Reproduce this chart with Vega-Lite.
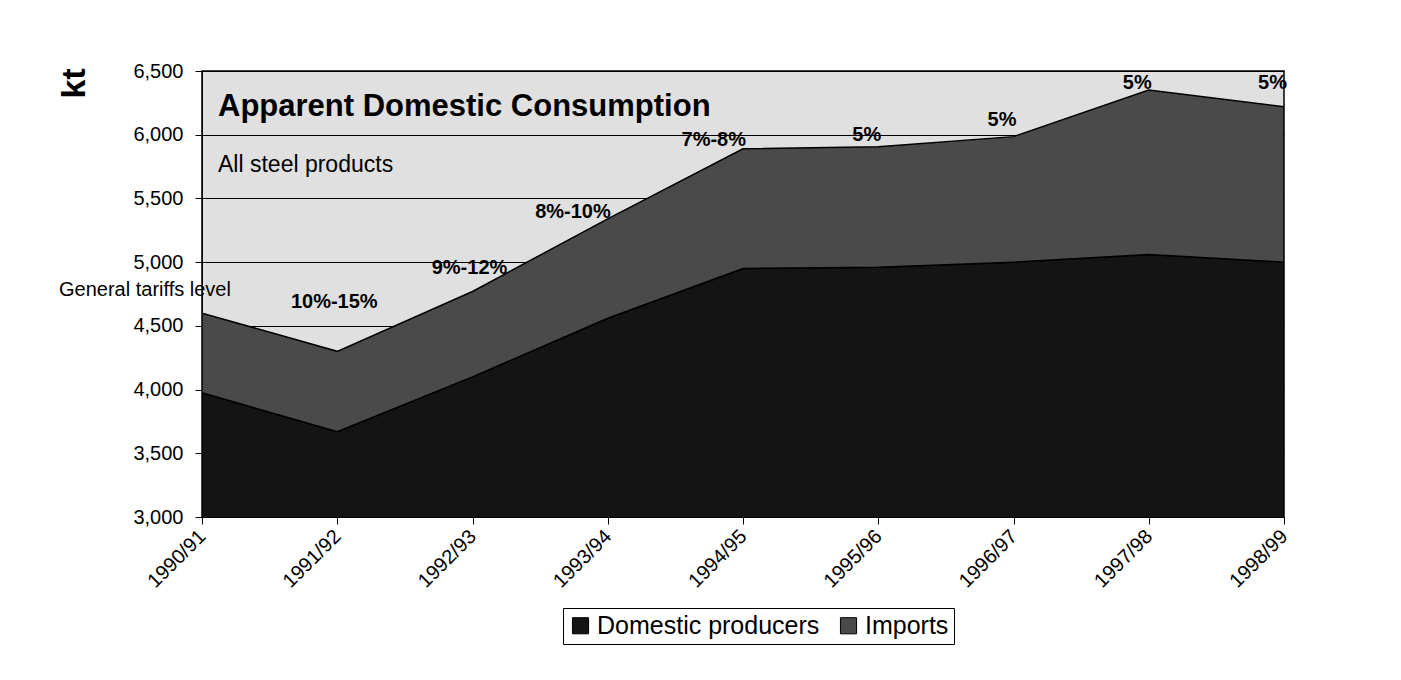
{
  "$schema": "https://vega.github.io/schema/vega-lite/v6.json",
  "width": 1082,
  "height": 446,
  "autosize": "none",
  "padding": {"left": 202, "top": 71, "right": 117, "bottom": 163},
  "background": "white",
  "config": {
    "font": "Liberation Sans",
    "view": {"fill": "#e0e0e0", "stroke": "black", "strokeWidth": 1.5}
  },
  "datasets": {
    "flows": [
      {"year": "1990/91", "series": "Domestic producers", "kt": 3975},
      {"year": "1991/92", "series": "Domestic producers", "kt": 3670},
      {"year": "1992/93", "series": "Domestic producers", "kt": 4100},
      {"year": "1993/94", "series": "Domestic producers", "kt": 4560},
      {"year": "1994/95", "series": "Domestic producers", "kt": 4950},
      {"year": "1995/96", "series": "Domestic producers", "kt": 4960},
      {"year": "1996/97", "series": "Domestic producers", "kt": 5000},
      {"year": "1997/98", "series": "Domestic producers", "kt": 5060},
      {"year": "1998/99", "series": "Domestic producers", "kt": 5000},
      {"year": "1990/91", "series": "Imports", "kt": 625},
      {"year": "1991/92", "series": "Imports", "kt": 630},
      {"year": "1992/93", "series": "Imports", "kt": 670},
      {"year": "1993/94", "series": "Imports", "kt": 780},
      {"year": "1994/95", "series": "Imports", "kt": 940},
      {"year": "1995/96", "series": "Imports", "kt": 945},
      {"year": "1996/97", "series": "Imports", "kt": 985},
      {"year": "1997/98", "series": "Imports", "kt": 1290},
      {"year": "1998/99", "series": "Imports", "kt": 1220}
    ],
    "tariffs": [
      {"year": "1991/92", "ly": 4687, "txt": "10%-15%", "grp": "a"},
      {"year": "1992/93", "ly": 4954, "txt": "9%-12%", "grp": "a"},
      {"year": "1993/94", "ly": 5393, "txt": "8%-10%", "grp": "b"},
      {"year": "1994/95", "ly": 5958, "txt": "7%-8%", "grp": "b"},
      {"year": "1995/96", "ly": 5998, "txt": "5%", "grp": "b"},
      {"year": "1996/97", "ly": 6115, "txt": "5%", "grp": "b"},
      {"year": "1997/98", "ly": 6406, "txt": "5%", "grp": "b"},
      {"year": "1998/99", "ly": 6406, "txt": "5%", "grp": "b"}
    ],
    "notes": [
      {"year": "1990/91", "ly": 6220, "txt": "Apparent Domestic Consumption", "kind": "title"},
      {"year": "1990/91", "ly": 5760, "txt": "All steel products", "kind": "sub"},
      {"year": "1990/91", "ly": 4781, "txt": "General tariffs level", "kind": "note"}
    ]
  },
  "layer": [
    {
      "data": {"name": "flows"},
      "mark": {"type": "area", "clip": true, "stroke": "black", "strokeWidth": 1.5, "opacity": 1},
      "encoding": {
        "x": {
          "field": "year", "type": "ordinal", "title": null,
          "scale": {"type": "point", "padding": 0},
          "axis": {
            "labelAngle": -45, "labelAlign": "right", "labelBaseline": "middle",
            "labelFontSize": 20, "labelColor": "black", "labelPadding": 9,
            "tickColor": "black", "tickSize": 7, "domainColor": "black", "grid": false
          }
        },
        "y": {
          "field": "kt", "type": "quantitative", "stack": "zero", "title": "kt",
          "scale": {"domain": [3000, 6500], "zero": false, "nice": false},
          "axis": {
            "values": [3000, 3500, 4000, 4500, 5000, 5500, 6000, 6500],
            "labelExpr": "format(datum.value, ',')",
            "labelFontSize": 20, "labelColor": "black", "labelPadding": 12,
            "tickColor": "black", "tickSize": 7, "domainColor": "black",
            "grid": true, "gridColor": "black", "gridWidth": 1, "gridOpacity": 1,
            "titleFontSize": 34, "titleFontWeight": "bold", "titleColor": "black",
            "titleAngle": -90, "titleX": -128, "titleY": 12,
            "titleAlign": "center", "titleBaseline": "middle"
          }
        },
        "color": {
          "field": "series", "type": "nominal",
          "scale": {"domain": ["Domestic producers", "Imports"], "range": ["#141414", "#4a4a4a"]},
          "legend": {
            "orient": "none", "legendX": 361, "legendY": 537, "direction": "horizontal",
            "title": null, "labelFontSize": 25, "labelColor": "black", "labelLimit": 400,
            "symbolType": "square", "symbolSize": 260, "symbolStrokeColor": "black",
            "symbolStrokeWidth": 1, "symbolOpacity": 1,
            "strokeColor": "black", "padding": 5, "columnPadding": 16, "fillColor": "white"
          }
        },
        "order": {"field": "series", "sort": "ascending"}
      }
    },
    {
      "data": {"name": "notes"},
      "transform": [{"filter": "datum.kind === 'title'"}],
      "mark": {"type": "text", "align": "left", "baseline": "middle", "fontSize": 31, "fontWeight": "bold", "dx": 16, "color": "black"},
      "encoding": {
        "x": {"field": "year", "type": "ordinal", "title": null},
        "y": {"field": "ly", "type": "quantitative", "title": "kt"},
        "text": {"field": "txt"}
      }
    },
    {
      "data": {"name": "notes"},
      "transform": [{"filter": "datum.kind === 'sub'"}],
      "mark": {"type": "text", "align": "left", "baseline": "middle", "fontSize": 23, "dx": 16, "color": "black"},
      "encoding": {
        "x": {"field": "year", "type": "ordinal", "title": null},
        "y": {"field": "ly", "type": "quantitative", "title": "kt"},
        "text": {"field": "txt"}
      }
    },
    {
      "data": {"name": "notes"},
      "transform": [{"filter": "datum.kind === 'note'"}],
      "mark": {"type": "text", "align": "left", "baseline": "middle", "fontSize": 20, "dx": -143, "color": "black"},
      "encoding": {
        "x": {"field": "year", "type": "ordinal", "title": null},
        "y": {"field": "ly", "type": "quantitative", "title": "kt"},
        "text": {"field": "txt"}
      }
    },
    {
      "data": {"name": "tariffs"},
      "transform": [{"filter": "datum.grp === 'a'"}],
      "mark": {"type": "text", "align": "center", "baseline": "middle", "fontSize": 20, "fontWeight": "bold", "dx": -3, "color": "black"},
      "encoding": {
        "x": {"field": "year", "type": "ordinal", "title": null},
        "y": {"field": "ly", "type": "quantitative", "title": "kt"},
        "text": {"field": "txt"}
      }
    },
    {
      "data": {"name": "tariffs"},
      "transform": [{"filter": "datum.grp === 'b'"}],
      "mark": {"type": "text", "align": "right", "baseline": "middle", "fontSize": 20, "fontWeight": "bold", "dx": 3, "color": "black"},
      "encoding": {
        "x": {"field": "year", "type": "ordinal", "title": null},
        "y": {"field": "ly", "type": "quantitative", "title": "kt"},
        "text": {"field": "txt"}
      }
    }
  ]
}
